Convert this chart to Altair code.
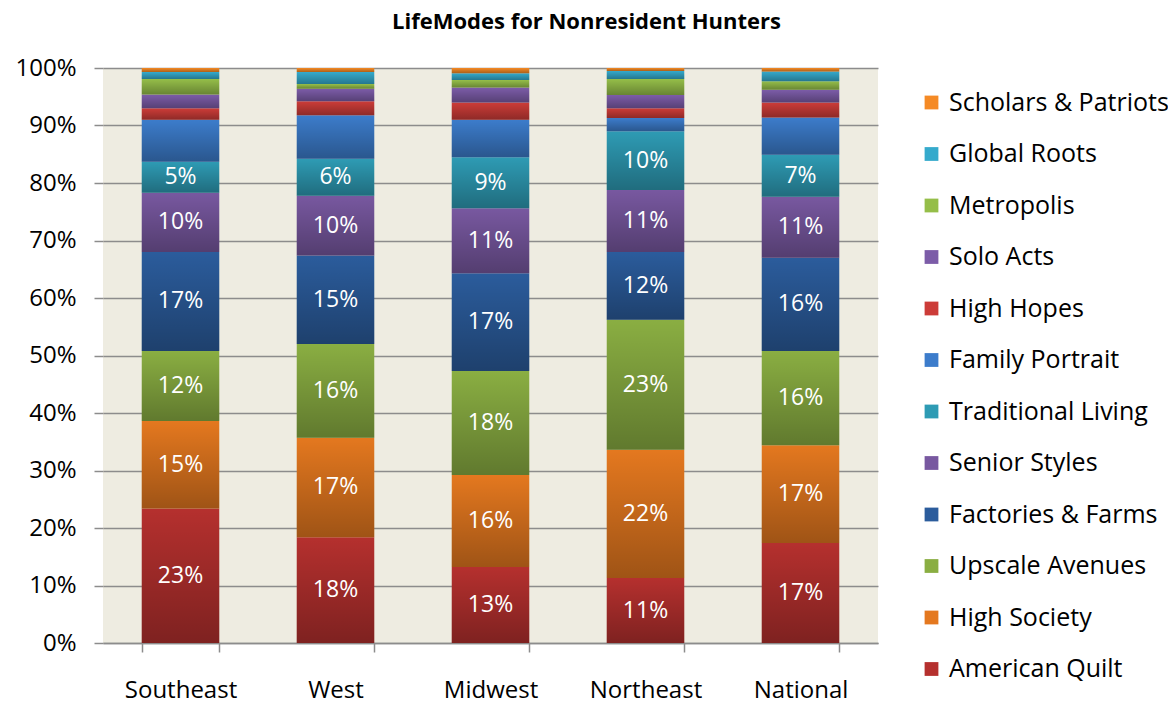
import altair as alt
import pandas as pd

regions = ["Southeast", "West", "Midwest", "Northeast", "National"]
series = ["American Quilt", "High Society", "Upscale Avenues", "Factories & Farms",
          "Senior Styles", "Traditional Living", "Family Portrait", "High Hopes",
          "Solo Acts", "Metropolis", "Global Roots", "Scholars & Patriots"]
colors = ["#B5302E", "#E4781F", "#8AAE42", "#2B5C9C", "#7858A0", "#2E9BB4",
          "#3C7CCB", "#CC3C38", "#7C5CA8", "#95BE49", "#35AACC", "#F58A25"]

southeast = [23.4, 15.2, 12.2, 17.2, 10.3, 5.4, 7.3, 2.0, 2.4, 2.7, 1.2, 0.7]
west      = [18.4, 17.3, 16.3, 15.4, 10.4, 6.4, 7.6, 2.4, 2.2, 0.8, 2.1, 0.7]
midwest   = [13.2, 16.0, 18.1, 17.0, 11.3, 8.9, 6.5, 3.0, 2.6, 1.3, 1.2, 0.9]
northeast = [11.3, 22.3, 22.6, 11.8, 10.8, 10.2, 2.3, 1.7, 2.3, 2.8, 1.4, 0.5]
national  = [17.4, 17.0, 16.4, 16.2, 10.6, 7.3, 6.5, 2.6, 2.2, 1.5, 1.7, 0.6]
labelled_series = 6

rows = []
for r, vals in zip(regions, [southeast, west, midwest, northeast, national]):
    for i, (s, v) in enumerate(zip(series, vals)):
        rows.append({"region": r, "series": s, "order": i, "value": v})
df = pd.DataFrame(rows)

FONT = "Open Sans"

base = alt.Chart(df).transform_stack(
    stack="value", groupby=["region"], as_=["y0", "y1"],
    sort=[alt.SortField("order", order="ascending")], offset="normalize"
)

x_enc = alt.X("region:N", sort=regions, title=None,
              scale=alt.Scale(paddingInner=0.5, paddingOuter=0.25),
              axis=alt.Axis(labelAngle=0, labelFont=FONT, labelFontSize=24, labelColor="#000",
                            tickBand="extent", tickSize=9, tickColor="#8c8c8c", tickWidth=1.5,
                            domainColor="#8c8c8c", domainWidth=1.5, labelPadding=26, grid=False))
y_enc = alt.Y("y0:Q", title=None, scale=alt.Scale(domain=[0, 1]),
              axis=alt.Axis(format=".0%", values=[i / 10 for i in range(11)],
                            labelFont=FONT, labelFontSize=24, labelColor="#000",
                            tickSize=9, tickColor="#8c8c8c", tickWidth=1.5, labelPadding=18,
                            domain=False, grid=True, gridColor="#8c8c8c", gridWidth=1.5))

bars = base.mark_bar().encode(
    x=x_enc, y=y_enc, y2="y1:Q",
    color=alt.Color("series:N",
                    scale=alt.Scale(domain=series[::-1], range=colors[::-1]),
                    legend=alt.Legend(title=None, orient="none", legendX=816, legendY=22,
                                      symbolType="square", symbolSize=190, symbolStrokeWidth=0,
                                      labelFont=FONT, labelFontSize=25, labelColor="#000",
                                      rowPadding=25.5, labelOffset=5, padding=0, labelLimit=400)),
    order=alt.Order("order:Q")
)

shade = base.mark_bar(
    color=alt.LinearGradient(
        gradient="linear", x1=0, x2=0, y1=0, y2=1,
        stops=[alt.GradientStop(color="rgba(0,0,0,0)", offset=0),
               alt.GradientStop(color="rgba(0,0,0,0.3)", offset=1)])
).encode(x=alt.X("region:N", sort=regions), y="y0:Q", y2="y1:Q")

text = base.transform_filter(
    alt.datum.order < labelled_series
).transform_calculate(
    mid="(datum.y0 + datum.y1) / 2",
    label="format((datum.y1 - datum.y0) * 100, '.0f') + '%'"
).mark_text(font=FONT, fontSize=23, color="white", baseline="middle").encode(
    x=alt.X("region:N", sort=regions), y="mid:Q", text="label:N"
)

chart = alt.layer(bars, shade, text).properties(
    width=775, height=575,
    autosize=alt.AutoSizeParams(type="none"),
    padding={"left": 95, "top": 60, "right": 290, "bottom": 60},
    view=alt.ViewBackground(fill="#EEECE1", strokeWidth=0),
    title=alt.Title("LifeModes for Nonresident Hunters", font=FONT, fontSize=22,
                    fontWeight="bold", anchor="middle", dx=96, offset=22, color="#000")
).configure_view(fill="#EEECE1", strokeWidth=0).configure(background="white")

chart.save("out.html", embed_options={"renderer": "svg", "actions": False})
